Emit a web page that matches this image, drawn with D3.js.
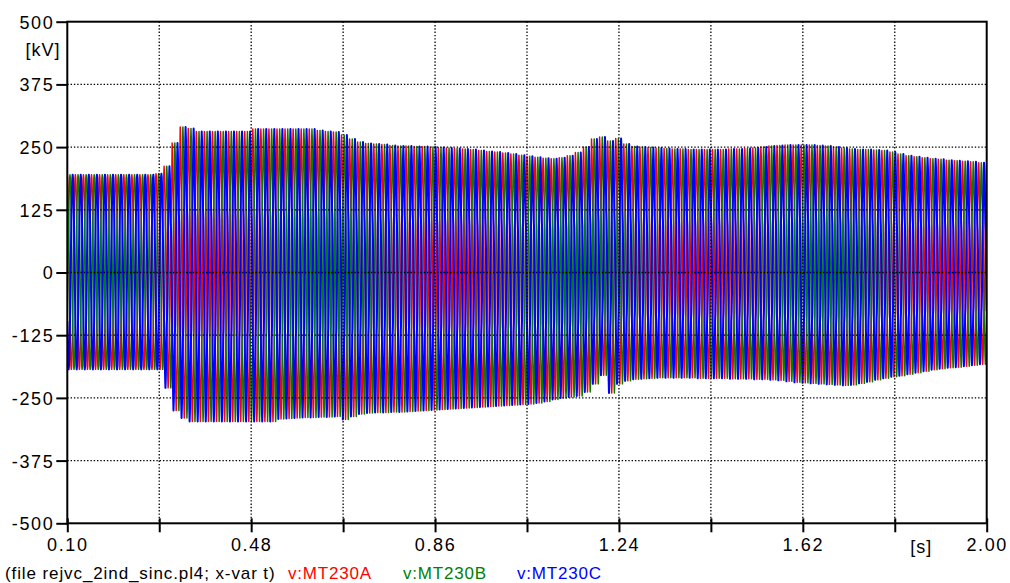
<!DOCTYPE html>
<html>
<head>
<meta charset="utf-8">
<script src="https://cdn.jsdelivr.net/npm/d3@7"></script>
<style>
  html, body { margin: 0; padding: 0; background: #fff; }
  svg { display: block; font-family: "Liberation Sans", Arial, sans-serif; }
</style>
</head>
<body>
<svg id="chart" width="1010" height="583"></svg>
<script>
// Three-phase bus voltages at MT230 (ATP run rejvc_2ind_sinc.pl4), 60 Hz.
const startTime = 0.10;          // s
const systemFreq = 60;           // Hz, one entry per cycle below

// Positive peak of each cycle [kV] (114 cycles, 0.10 s .. 2.00 s)
const upperPeakKV = [
  195,195,195,195,195,195,195,195,195,195,
  195,197,212,258,290,287,281,281,281,281,
  281,281,281,286,286,286,286,286,286,286,
  286,283,281,280,274,266,260,257,256,255,
  253,252,252,251,251,250,249,248,247,246,
  245,243,241,240,238,236,234,232,230,228,
  227,229,233,239,250,266,270,262,267,256,
  251,250,249,248,247,246,246,245,245,245,
  245,245,246,246,247,248,250,252,253,254,
  254,254,254,253,252,250,248,246,245,245,
  244,243,240,236,233,231,229,227,226,224,
  223,222,221,219
];

// Negative peak of each cycle [kV]
const lowerPeakKV = [
  -193,-193,-193,-193,-193,-193,-193,-193,-193,-193,
  -193,-193,-230,-275,-290,-297,-297,-297,-297,-297,
  -297,-297,-297,-297,-297,-297,-292,-291,-290,-289,
  -289,-288,-288,-287,-293,-287,-282,-280,-279,-279,
  -278,-278,-277,-276,-275,-274,-273,-272,-271,-270,
  -269,-268,-267,-266,-265,-264,-263,-262,-260,-257,
  -253,-250,-248,-246,-238,-222,-205,-240,-222,-216,
  -213,-212,-211,-210,-210,-210,-210,-210,-211,-211,
  -211,-211,-212,-212,-212,-213,-213,-214,-215,-217,
  -219,-220,-221,-222,-223,-224,-225,-224,-221,-218,
  -214,-211,-208,-206,-203,-200,-197,-194,-192,-190,
  -189,-187,-185,-183
];

// Normalised waveform of one cycle, 24 samples (steady state before the event)
const steadyCycle = [
  1.000, 0.966, 0.866, 0.707, 0.500, 0.259, 0.000,-0.259,-0.500,-0.707,-0.866,-0.966,
 -1.000,-0.966,-0.866,-0.707,-0.500,-0.259, 0.000, 0.259, 0.500, 0.707, 0.866, 0.966
];
// Normalised waveform of one cycle after the rejection (harmonic shoulders)
const disturbedCycle = [
  1.000, 0.930, 0.800, 0.620, 0.450, 0.380, 0.200,-0.100,-0.420,-0.600,-0.720,-0.900,
 -1.000,-0.930,-0.800,-0.620,-0.450,-0.380,-0.200, 0.100, 0.420, 0.600, 0.720, 0.900
];
const firstDisturbedCycle = 12;

const phaseLabels = ["v:MT230A", "v:MT230B", "v:MT230C"];
const phaseColors = ["#ff0000", "#008000", "#0000ff"];
const phaseShiftSamples = [0, 8, 16];   // 0°, 120°, 240° lag

const xTickValues = [0.10, 0.29, 0.48, 0.67, 0.86, 1.05, 1.24, 1.43, 1.62, 1.81, 2.00];
const xTickLabels = ["0.10", "", "0.48", "", "0.86", "", "1.24", "", "1.62", "", "2.00"];
const yTickValues = [-500, -375, -250, -125, 0, 125, 250, 375, 500];
const yTickLabels = ["-500", "-375", "-250", "-125", "0", "125", "250", "375", "500"];
const yUnit = "[kV]";
const xUnit = "[s]";
const footerText = "(file rejvc_2ind_sinc.pl4; x-var t)";

// ---------------------------------------------------------------------------
const svg = d3.select("#chart");
const plot = { left: 67.3, right: 986.7, top: 21.7, bottom: 523.3 };

const x = d3.scaleLinear().domain([0.10, 2.00]).range([plot.left, plot.right]);
const y = d3.scaleLinear().domain([-500, 500]).range([plot.bottom, plot.top]);

svg.append("rect").attr("width", 1010).attr("height", 583).attr("fill", "#fff");

svg.append("clipPath").attr("id", "plotClip")
  .append("rect")
  .attr("x", plot.left).attr("y", plot.top)
  .attr("width", plot.right - plot.left).attr("height", plot.bottom - plot.top);

// Build each phase trace from the per-cycle peaks and the cycle waveform
const samplesPerCycle = steadyCycle.length;
function phaseSeries(shift) {
  const pts = [];
  for (let c = 0; c < upperPeakKV.length; c++) {
    const shape = c < firstDisturbedCycle ? steadyCycle : disturbedCycle;
    for (let s = 0; s < samplesPerCycle; s++) {
      const v = shape[(s - shift + samplesPerCycle) % samplesPerCycle];
      const kv = v >= 0 ? v * upperPeakKV[c] : -v * lowerPeakKV[c];
      pts.push({ t: startTime + (c + s / samplesPerCycle) / systemFreq, v: kv });
    }
  }
  const last = upperPeakKV.length - 1;
  const v = disturbedCycle[(samplesPerCycle - shift) % samplesPerCycle];
  pts.push({ t: startTime + upperPeakKV.length / systemFreq,
             v: v >= 0 ? v * upperPeakKV[last] : -v * lowerPeakKV[last] });
  return pts;
}

const line = d3.line().x(d => x(d.t)).y(d => y(d.v));

// Phase C is plotted last, so its pen sits on top of A and B
const penWidths = [1.5, 1.5, 2.0];
const traces = svg.append("g").attr("clip-path", "url(#plotClip)");
phaseLabels.forEach((name, k) => {
  traces.append("path")
    .datum(phaseSeries(phaseShiftSamples[k]))
    .attr("fill", "none")
    .attr("stroke", phaseColors[k])
    .attr("stroke-width", penWidths[k])
    .attr("stroke-linejoin", "round")
    .attr("d", line);
});

// Dotted grid, drawn over the traces
const grid = svg.append("g")
  .attr("stroke", "#000").attr("stroke-width", 1.3)
  .attr("stroke-dasharray", "1.4,1.9");
grid.selectAll("line.gx")
  .data(xTickValues.slice(1, -1)).join("line")
  .attr("x1", d => x(d)).attr("x2", d => x(d))
  .attr("y1", plot.top).attr("y2", plot.bottom);
grid.selectAll("line.gy")
  .data(yTickValues.slice(1, -1)).join("line")
  .attr("y1", d => y(d)).attr("y2", d => y(d))
  .attr("x1", plot.left).attr("x2", plot.right);

// Frame
svg.append("rect")
  .attr("x", plot.left).attr("y", plot.top)
  .attr("width", plot.right - plot.left).attr("height", plot.bottom - plot.top)
  .attr("fill", "none").attr("stroke", "#000").attr("stroke-width", 2);

// Y axis
const yAxis = d3.axisLeft(y)
  .tickValues(yTickValues)
  .tickFormat((d, i) => yTickLabels[i])
  .tickSize(11).tickPadding(2);
const gy = svg.append("g").attr("transform", `translate(${plot.left},0)`).call(yAxis);
gy.select(".domain").remove();
gy.selectAll(".tick line").attr("stroke", "#000").attr("stroke-width", 2);
gy.selectAll(".tick text")
  .attr("fill", "#000").attr("font-size", 18).attr("letter-spacing", 1.6)
  .attr("font-family", "'Liberation Sans', Arial, sans-serif")
  .attr("dy", "0.36em");

svg.append("text")
  .attr("x", 43).attr("y", y(445))
  .attr("text-anchor", "middle").attr("dy", "0.36em")
  .attr("font-size", 18).attr("letter-spacing", 1)
  .text(yUnit);

// X axis
const xAxis = d3.axisBottom(x)
  .tickValues(xTickValues)
  .tickFormat((d, i) => xTickLabels[i])
  .tickSize(9).tickPadding(6);
const gx = svg.append("g").attr("transform", `translate(0,${plot.bottom})`).call(xAxis);
gx.select(".domain").remove();
gx.selectAll(".tick line")
  .attr("stroke", "#000").attr("stroke-width", 2).attr("y1", -5);
gx.selectAll(".tick text")
  .attr("fill", "#000").attr("font-size", 18).attr("letter-spacing", 1.6)
  .attr("font-family", "'Liberation Sans', Arial, sans-serif");

svg.append("text")
  .attr("x", x(1.865)).attr("y", 553)
  .attr("text-anchor", "middle")
  .attr("font-size", 18).attr("letter-spacing", 1)
  .text(xUnit);

// Footer: file name and trace legend
svg.append("text")
  .attr("x", 5).attr("y", 579)
  .attr("font-size", 17).attr("letter-spacing", 0.9)
  .attr("fill", "#000")
  .text(footerText);

const legendX = [288, 403, 517];
phaseLabels.forEach((name, k) => {
  svg.append("text")
    .attr("x", legendX[k]).attr("y", 579)
    .attr("font-size", 17).attr("letter-spacing", 0.8)
    .attr("fill", phaseColors[k])
    .text(name);
});
</script>
</body>
</html>
